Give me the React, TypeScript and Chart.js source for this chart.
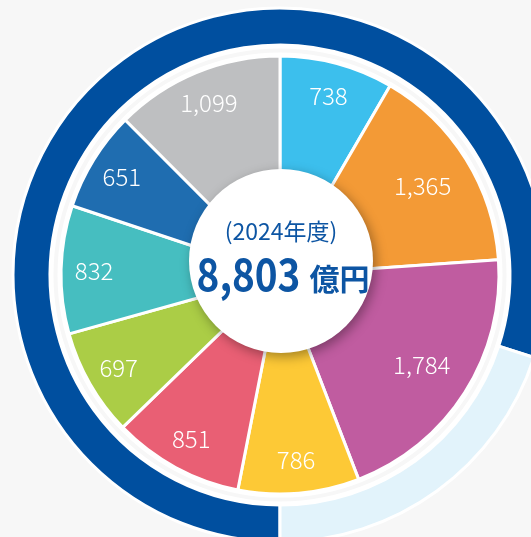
import React, { useEffect, useRef } from "react";
import { Chart, registerables } from "chart.js";

Chart.register(...registerables);

const categories = ["A", "B", "C", "D", "E", "F", "G", "H", "I"];
const values = [738, 1365, 1784, 786, 851, 697, 832, 651, 1099];
const sliceColors = ["#3cbfed", "#f39a36", "#c05ca0", "#fdc936", "#e95f74", "#abcd46", "#46bec0", "#1f6db0", "#bebfc1"];
const ringLabels = ["実績", "残り"];
const ringValues = [80, 20];
const ringColors = ["#004f9f", "#e2f3fb"];
const yearLabel = "(2024年度)";
const totalLabel = "8,803";
const unitLabel = "億円";

const BG = "#f7f7f7";
const TEXT_BLUE = "#0d55a3";

const fmt = (v: number) => v.toLocaleString("en-US");

const decorPlugin = {
  id: "decor",
  afterDatasetsDraw(chart: any) {
    const ctx = chart.ctx as CanvasRenderingContext2D;
    const pieMeta = chart.getDatasetMeta(2);
    const arc0 = pieMeta.data[0];
    const cx = arc0.x;
    const cy = arc0.y;

    // white outlines in the gap between pie and ring
    ctx.save();
    ctx.strokeStyle = "#ffffff";
    ctx.lineWidth = 3;
    ctx.beginPath();
    ctx.arc(cx, cy, 221, 0, Math.PI * 2);
    ctx.stroke();
    ctx.beginPath();
    ctx.arc(cx, cy, 228, 0, Math.PI * 2);
    ctx.stroke();
    ctx.restore();

    // slice labels
    ctx.save();
    ctx.fillStyle = "#ffffff";
    ctx.font = '300 24px "Noto Sans CJK JP", "Noto Sans", sans-serif';
    ctx.textAlign = "center";
    ctx.textBaseline = "middle";
    pieMeta.data.forEach((arc: any, i: number) => {
      const p = arc.getProps(["startAngle", "endAngle"], true);
      const mid = (p.startAngle + p.endAngle) / 2;
      const r = values[i] > 1200 ? 168 : 186;
      ctx.fillText(fmt(values[i]), cx + Math.cos(mid) * r, cy + Math.sin(mid) * r);
    });
    ctx.restore();

    // center circle with shadow
    const ccx = cx + 1;
    const ccy = cy - 14;
    ctx.save();
    ctx.shadowColor = "rgba(0,0,0,0.35)";
    ctx.shadowBlur = 12;
    ctx.shadowOffsetX = 3;
    ctx.shadowOffsetY = 4;
    ctx.fillStyle = "#ffffff";
    ctx.beginPath();
    ctx.arc(ccx, ccy, 92, 0, Math.PI * 2);
    ctx.fill();
    ctx.restore();

    // center text
    ctx.save();
    ctx.fillStyle = TEXT_BLUE;
    ctx.textBaseline = "alphabetic";
    ctx.textAlign = "center";
    ctx.font = '400 23px "Noto Sans CJK JP", sans-serif';
    ctx.fillText(yearLabel, ccx, ccy - 21);

    const sx = 0.86;
    ctx.font = '700 45px "Noto Sans CJK JP", sans-serif';
    const w1 = ctx.measureText(totalLabel).width * sx;
    ctx.font = '700 30px "Noto Sans CJK JP", sans-serif';
    const w2 = ctx.measureText(unitLabel).width;
    const gap = 9;
    const startX = ccx + 2 - (w1 + gap + w2) / 2;
    ctx.textAlign = "left";
    ctx.save();
    ctx.translate(startX, ccy + 30);
    ctx.scale(sx, 1);
    ctx.font = '700 45px "Noto Sans CJK JP", sans-serif';
    ctx.fillText(totalLabel, 0, 0);
    ctx.restore();
    ctx.font = '700 30px "Noto Sans CJK JP", sans-serif';
    ctx.fillText(unitLabel, startX + w1 + gap, ccy + 29);
    ctx.restore();
  },
};

export default function App() {
  const ref = useRef<HTMLCanvasElement>(null);

  useEffect(() => {
    if (!ref.current) return;
    const chart = new Chart(ref.current, {
      type: "doughnut",
      data: {
        labels: categories,
        datasets: [
          {
            label: "ring",
            data: ringValues,
            backgroundColor: ringColors,
            borderColor: "#ffffff",
            borderWidth: 3,
            rotation: 180,
            weight: 37,
          } as any,
          {
            label: "spacer",
            data: [1],
            backgroundColor: "rgba(0,0,0,0)",
            borderWidth: 0,
            weight: 11,
          } as any,
          {
            label: "pie",
            data: values,
            backgroundColor: sliceColors,
            borderColor: "#ffffff",
            borderWidth: 3,
            weight: 219,
          } as any,
        ],
      },
      options: {
        animation: false,
        responsive: false,
        events: [],
        cutout: 0,
        radius: 267,
        layout: { padding: { left: 14, right: 14, top: 9, bottom: 9 } },
        plugins: {
          legend: { display: false },
          tooltip: { enabled: false },
        },
      } as any,
      plugins: [decorPlugin],
    });
    return () => chart.destroy();
  }, []);

  return (
    <div
      style={{
        position: "fixed",
        left: 0,
        top: 0,
        width: 531,
        height: 537,
        overflow: "hidden",
        background: BG,
      }}
    >
      <canvas
        ref={ref}
        width={560}
        height={550}
        style={{ position: "absolute", left: 0, top: 0, width: 560, height: 550 }}
      />
    </div>
  );
}
